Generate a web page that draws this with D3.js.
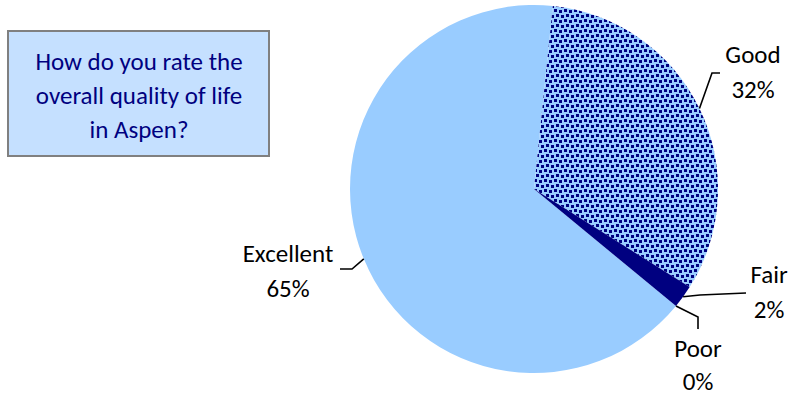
<!DOCTYPE html>
<html>
<head>
<meta charset="utf-8">
<script src="https://cdn.jsdelivr.net/npm/d3@7/dist/d3.min.js"></script>
<style>
  html, body { margin: 0; padding: 0; background: #fff; }
  svg { display: block; }
  text { font-family: Carlito, Calibri, Lato, sans-serif; }
</style>
</head>
<body>
<svg id="chart" width="789" height="400"></svg>
<script>
// Survey responses, percent of respondents
const categories = ["Excellent", "Good", "Fair", "Poor"];
const percents = [65, 32, 2, 0];
const titleLines = ["How do you rate the", "overall quality of life", "in Aspen?"];

// Layout
const W = 789, H = 400;
const cx = 534, cy = 189, R = 184;
const startDeg = 129.5;          // first slice angle, clockwise from 12 o'clock
const fontSize = 25;
const lineGap = 35;

// Where each label block sits (anchor = point the leader line ends at)
const labelLayout = {
  Excellent: { ax: 340, ay: 269, elbow: [352, 269], tx: 288, ty: 262, anchor: "middle" },
  Good:      { ax: 720, ay: 73,  elbow: [712, 73],  tx: 753, ty: 63,  anchor: "middle" },
  Fair:      { ax: 746, ay: 293, elbow: [700, 295], tx: 769, ty: 283, anchor: "middle" },
  Poor:      { ax: 698, ay: 329, elbow: [698, 317], tx: 698, ty: 357, anchor: "middle" }
};

const fills = {
  Excellent: "#99CCFF",
  Good: "url(#confetti)",
  Fair: "#000080",
  Poor: "#3366CC"
};

const svg = d3.select("#chart");

// Small-confetti fill: navy squares on light blue
const defs = svg.append("defs");
const pat = defs.append("pattern")
  .attr("id", "confetti")
  .attr("patternUnits", "userSpaceOnUse")
  .attr("width", 10).attr("height", 10);
pat.append("rect").attr("width", 10).attr("height", 10).attr("fill", "#99CCFF");
[[0, 0], [5, 1], [2, 5], [7, 6]].forEach(([x, y]) => {
  pat.append("rect").attr("x", x).attr("y", y)
    .attr("width", 3).attr("height", 3).attr("fill", "#000080");
});

const data = categories.map((c, i) => ({ category: c, value: percents[i] }));

const toRad = d => d * Math.PI / 180;
const pie = d3.pie()
  .sort(null)
  .value(d => d.value)
  .startAngle(toRad(startDeg))
  .endAngle(toRad(startDeg + 360));

const arcs = pie(data);
const arc = d3.arc().innerRadius(0).outerRadius(R);

const g = svg.append("g").attr("transform", `translate(${cx},${cy})`);

g.selectAll("path.slice")
  .data(arcs)
  .join("path")
  .attr("class", "slice")
  .attr("d", arc)
  .attr("fill", d => fills[d.data.category]);

// Leader lines from slice edge to label
const edgePoint = d => {
  const a = (d.startAngle + d.endAngle) / 2;
  return [cx + R * Math.sin(a), cy - R * Math.cos(a)];
};

svg.selectAll("polyline.leader")
  .data(arcs)
  .join("polyline")
  .attr("class", "leader")
  .attr("fill", "none")
  .attr("stroke", "#000")
  .attr("stroke-width", 1.6)
  .attr("points", d => {
    const L = labelLayout[d.data.category];
    const p0 = edgePoint(d);
    return [p0, L.elbow, [L.ax, L.ay]].map(p => p.join(",")).join(" ");
  });

// Category and percent labels
const labels = svg.selectAll("text.label")
  .data(arcs)
  .join("text")
  .attr("class", "label")
  .attr("font-size", fontSize)
  .attr("fill", "#000")
  .attr("text-anchor", d => labelLayout[d.data.category].anchor);

labels.append("tspan")
  .attr("x", d => labelLayout[d.data.category].tx)
  .attr("y", d => labelLayout[d.data.category].ty)
  .text(d => d.data.category);

labels.append("tspan")
  .attr("x", d => labelLayout[d.data.category].tx)
  .attr("y", d => labelLayout[d.data.category].ty + (d.data.category === "Poor" ? 33 : lineGap))
  .text(d => d3.format(".0f")(d.data.value) + "%");

// Question box
const box = svg.append("g");
box.append("rect")
  .attr("x", 8).attr("y", 31)
  .attr("width", 261).attr("height", 125)
  .attr("fill", "#C5E0FF")
  .attr("stroke", "#808080")
  .attr("stroke-width", 2);

box.append("text")
  .attr("font-size", fontSize)
  .attr("fill", "#000080")
  .attr("text-anchor", "middle")
  .selectAll("tspan")
  .data(titleLines)
  .join("tspan")
  .attr("x", 139)
  .attr("y", (d, i) => 70 + i * 34)
  .text(d => d);
</script>
</body>
</html>
